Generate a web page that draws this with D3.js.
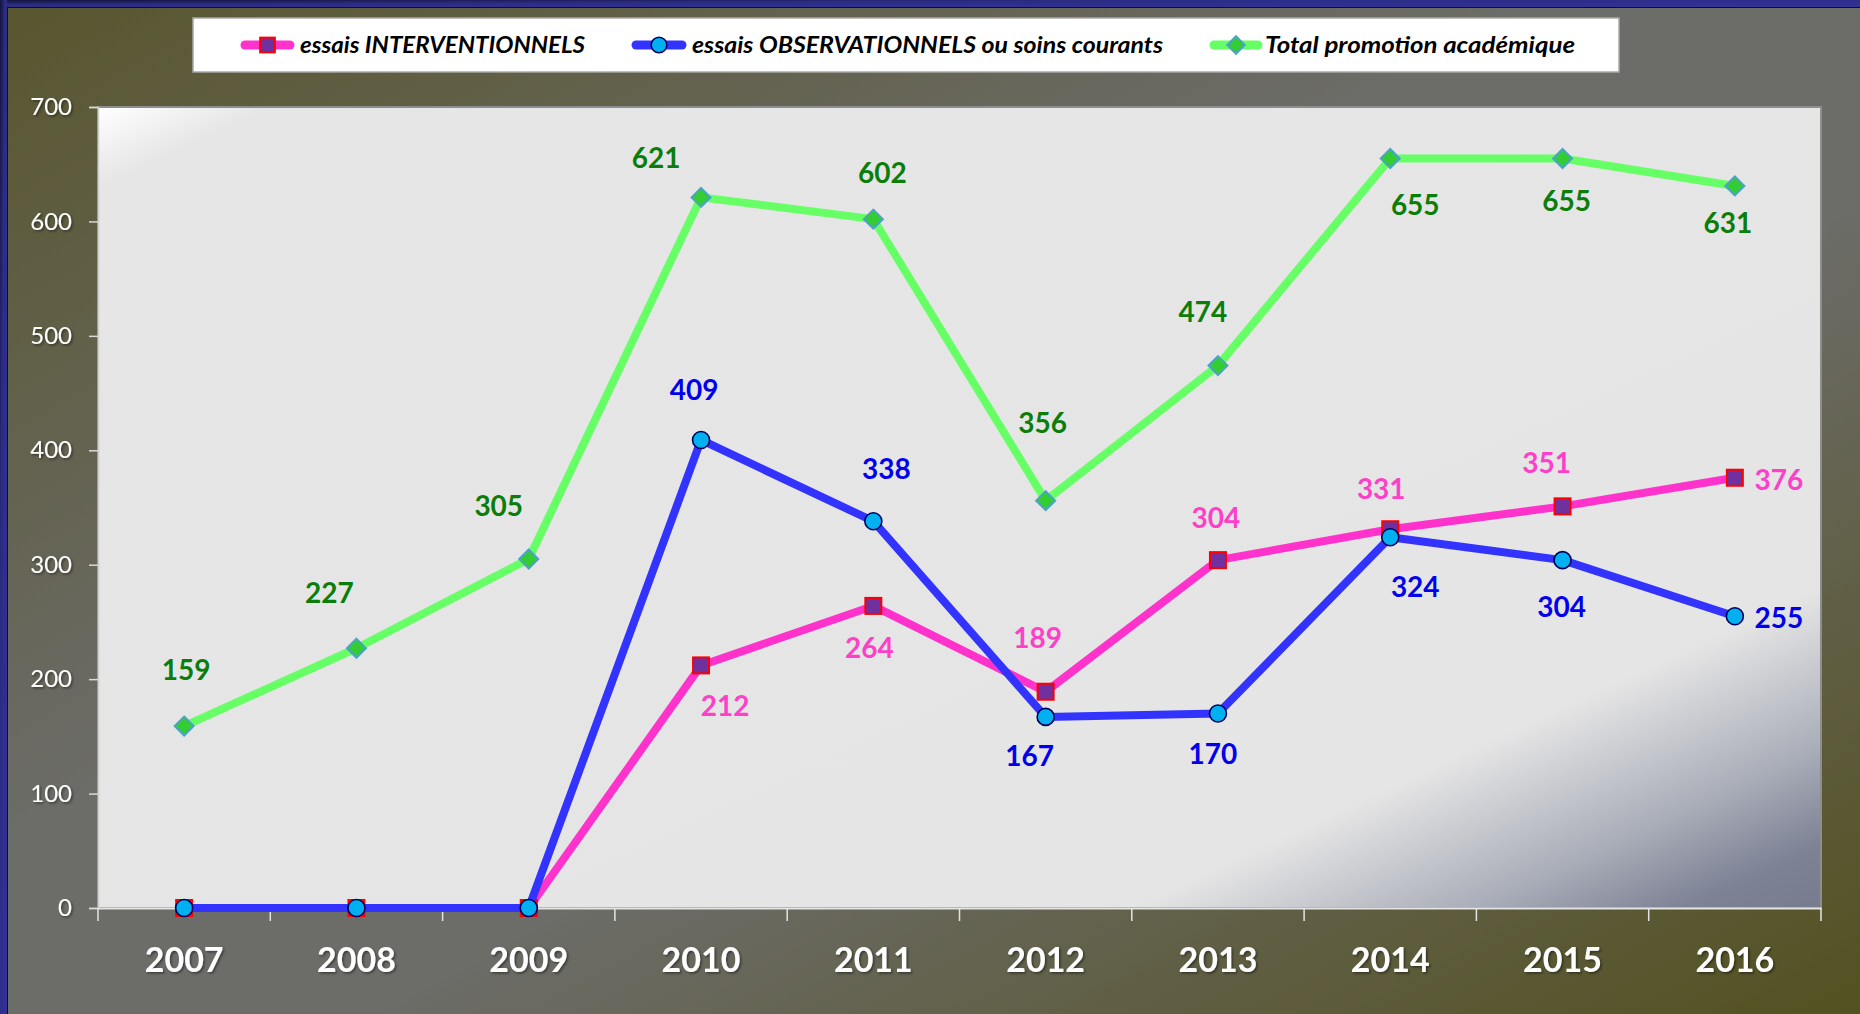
<!DOCTYPE html>
<html>
<head>
<meta charset="utf-8">
<script src="https://cdn.jsdelivr.net/npm/d3@7"></script>
<style>
  html, body { margin: 0; padding: 0; background: #6c6c68; }
  svg { display: block; }
</style>
</head>
<body>
<svg id="chart" width="1860" height="1014"></svg>
<script>
// ---------- DATA ----------
const years = ["2007", "2008", "2009", "2010", "2011", "2012", "2013", "2014", "2015", "2016"];
const interventionnels = [0, 0, 0, 212, 264, 189, 304, 331, 351, 376];
const observationnels = [0, 0, 0, 409, 338, 167, 170, 324, 304, 255];
const totalPromotion = [159, 227, 305, 621, 602, 356, 474, 655, 655, 631];
const yTicks = [0, 100, 200, 300, 400, 500, 600, 700];
const seriesNames = ["essais INTERVENTIONNELS", "essais OBSERVATIONNELS ou soins courants", "Total promotion académique"];

// ---------- LAYOUT (label placement, pixels relative to the point) ----------
const totalLabelOffsets = [[2,-56],[-27,-55],[-30,-53],[-45,-39],[9,-46],[-3,-78],[-15,-54],[25,46],[4,42],[-7,37]];
const obsLabelOffsets = [null,null,null,[-7,-50],[13,-52],[-16,39],[-5,40],[25,50],[-1,47],[44,2]];
const intLabelOffsets = [null,null,null,[24,41],[-4,42],[-8,-54],[-2,-42],[-9,-40],[-16,-43],[44,2]];

const W = 1860, H = 1014;
const plot = { left: 98, top: 107, right: 1821, bottom: 908 };
const FONT = "Lato, 'Open Sans', sans-serif";

const svg = d3.select("#chart");
const defs = svg.append("defs");

// background gradient
const bg = defs.append("linearGradient").attr("id", "bgGrad")
  .attr("x1", 0).attr("y1", 0).attr("x2", 1).attr("y2", 1);
bg.append("stop").attr("offset", 0).attr("stop-color", "#58562e");
bg.append("stop").attr("offset", 0.42).attr("stop-color", "#6c6c69");
bg.append("stop").attr("offset", 0.6).attr("stop-color", "#6c6c68");
bg.append("stop").attr("offset", 1).attr("stop-color", "#535120");

// plot area gradient
const pg = defs.append("linearGradient").attr("id", "plotGrad")
  .attr("x1", 0).attr("y1", 0).attr("x2", 1).attr("y2", 1);
pg.append("stop").attr("offset", 0).attr("stop-color", "#ffffff");
pg.append("stop").attr("offset", 0.05).attr("stop-color", "#e6e6e6");
pg.append("stop").attr("offset", 0.80).attr("stop-color", "#e5e5e5");
pg.append("stop").attr("offset", 0.90).attr("stop-color", "#a9adb8");
pg.append("stop").attr("offset", 0.96).attr("stop-color", "#7d8295");
pg.append("stop").attr("offset", 1).attr("stop-color", "#767b8e");

// frame gradient
const fg = defs.append("linearGradient").attr("id", "frameGrad")
  .attr("x1", 0).attr("y1", 0).attr("x2", 1).attr("y2", 1);
fg.append("stop").attr("offset", 0).attr("stop-color", "#14143a");
fg.append("stop").attr("offset", 0.35).attr("stop-color", "#2c2c85");
fg.append("stop").attr("offset", 1).attr("stop-color", "#333399");

// text shadow
const sh = defs.append("filter").attr("id", "tshadow")
  .attr("x", "-20%").attr("y", "-20%").attr("width", "140%").attr("height", "140%");
sh.append("feDropShadow").attr("dx", 1.5).attr("dy", 1.5).attr("stdDeviation", 1)
  .attr("flood-color", "#000").attr("flood-opacity", 0.45);

// background
svg.append("rect").attr("width", W).attr("height", H).attr("fill", "url(#bgGrad)");
// navy frame (top & left)
svg.append("rect").attr("x", 0).attr("y", 0).attr("width", W).attr("height", 7).attr("fill", "url(#frameGrad)");
svg.append("rect").attr("x", 0).attr("y", 0).attr("width", 7).attr("height", H).attr("fill", "url(#frameGrad)");
svg.append("line").attr("x1", 7).attr("y1", 7.5).attr("x2", W).attr("y2", 7.5).attr("stroke", "#111").attr("stroke-width", 1);
svg.append("line").attr("x1", 7.5).attr("y1", 7).attr("x2", 7.5).attr("y2", H).attr("stroke", "#111").attr("stroke-width", 1);

// scales
const x = d3.scaleBand().domain(years).range([plot.left, plot.right]).padding(0);
const cx = d => x(d) + x.bandwidth() / 2;
const y = d3.scaleLinear().domain([0, 700]).range([plot.bottom, plot.top]);

// plot area
svg.append("rect")
  .attr("x", plot.left).attr("y", plot.top)
  .attr("width", plot.right - plot.left).attr("height", plot.bottom - plot.top)
  .attr("fill", "url(#plotGrad)")
  .attr("stroke", "#8e8e8e").attr("stroke-width", 2);

// y axis
const yAxis = svg.append("g").attr("transform", `translate(${plot.left},0)`)
  .call(d3.axisLeft(y).tickValues(yTicks).tickSize(9).tickPadding(17));
yAxis.select(".domain").attr("stroke", "#cfcfcf").attr("stroke-width", 1.5);
yAxis.selectAll(".tick line").attr("stroke", "#d8d8d8").attr("stroke-width", 1.5);
yAxis.selectAll(".tick text")
  .attr("fill", "#ffffff").style("font-family", FONT).style("font-size", "24px")
  .attr("filter", "url(#tshadow)");

// x axis
const xAxis = svg.append("g").attr("transform", `translate(0,${plot.bottom})`)
  .call(d3.axisBottom(x).tickSize(0).tickPadding(40));
xAxis.select(".domain").attr("stroke", "#e4e4e4").attr("stroke-width", 2);
xAxis.selectAll(".tick text")
  .attr("fill", "#ffffff").style("font-family", FONT).style("font-size", "34px").style("font-weight", "bold")
  .attr("filter", "url(#tshadow)");
// boundary ticks
const boundaries = years.map(d => x(d)).concat([x(years[years.length - 1]) + x.bandwidth()]);
xAxis.selectAll(".btick").data(boundaries).enter().append("line")
  .attr("class", "btick")
  .attr("x1", d => d).attr("x2", d => d).attr("y1", 0).attr("y2", 13)
  .attr("stroke", "#e4e4e4").attr("stroke-width", 1.5);

// series definitions
const series = [
  { name: seriesNames[2], values: totalPromotion, line: "#66ff66", label: "#0a7d0a", marker: "diamond", offsets: totalLabelOffsets },
  { name: seriesNames[0], values: interventionnels, line: "#ff33cc", label: "#ff3fc8", marker: "square", offsets: intLabelOffsets },
  { name: seriesNames[1], values: observationnels, line: "#3333ff", label: "#0000ee", marker: "circle", offsets: obsLabelOffsets }
];

function drawMarker(g, type, px, py, scale) {
  const s = scale || 1;
  if (type === "square") {
    const a = 16 * s;
    g.append("rect").attr("x", px - a / 2).attr("y", py - a / 2).attr("width", a).attr("height", a)
      .attr("fill", "#7030a0").attr("stroke", "#ff0000").attr("stroke-width", 2);
  } else if (type === "circle") {
    g.append("circle").attr("cx", px).attr("cy", py).attr("r", 8.5 * s)
      .attr("fill", "#00b0f0").attr("stroke", "#00005a").attr("stroke-width", 1.6);
  } else {
    const r = 9.5 * s;
    g.append("path").attr("d", `M${px},${py - r}L${px + r},${py}L${px},${py + r}L${px - r},${py}Z`)
      .attr("fill", "#33cc33").attr("stroke", "#4ba3c8").attr("stroke-width", 2);
  }
}

const lineGen = d3.line().x((d, i) => cx(years[i])).y(d => y(d));

series.forEach(s => {
  const g = svg.append("g");
  g.append("path").datum(s.values).attr("d", lineGen)
    .attr("fill", "none").attr("stroke", s.line).attr("stroke-width", 8)
    .attr("stroke-linejoin", "round");
  s.values.forEach((v, i) => drawMarker(g, s.marker, cx(years[i]), y(v)));
  s.group = g;
});

// data labels (on top)
series.forEach(s => {
  const lg = svg.append("g");
  s.values.forEach((v, i) => {
    const off = s.offsets[i];
    if (!off) return;
    lg.append("text")
      .attr("x", cx(years[i]) + off[0]).attr("y", y(v) + off[1])
      .attr("dy", "0.36em")
      .attr("text-anchor", "middle")
      .attr("fill", s.label)
      .style("font-family", FONT).style("font-size", "28px").style("font-weight", "bold")
      .text(v);
  });
});

// legend
const legend = svg.append("g");
legend.append("rect").attr("x", 193).attr("y", 18).attr("width", 1426).attr("height", 54)
  .attr("fill", "#ffffff").attr("stroke", "#a8a8a8").attr("stroke-width", 1.5);
const legendItems = [
  { s: series[1], x1: 241, x2: 294, tx: 300, tw: 285 },
  { s: series[2], x1: 632, x2: 686, tx: 692, tw: 471 },
  { s: series[0], x1: 1210, x2: 1262, tx: 1265, tw: 310 }
];
legendItems.forEach(it => {
  legend.append("line").attr("x1", it.x1 + 4).attr("x2", it.x2 - 4).attr("y1", 45).attr("y2", 45)
    .attr("stroke", it.s.line).attr("stroke-width", 9).attr("stroke-linecap", "round");
  drawMarker(legend, it.s.marker, (it.x1 + it.x2) / 2, 45, 0.92);
  legend.append("text").attr("x", it.tx).attr("y", 53)
    .attr("textLength", it.tw).attr("lengthAdjust", "spacingAndGlyphs")
    .style("font-family", FONT).style("font-size", "22px").style("font-weight", "bold").style("font-style", "italic")
    .attr("fill", "#000").text(it.s.name);
});
</script>
</body>
</html>
